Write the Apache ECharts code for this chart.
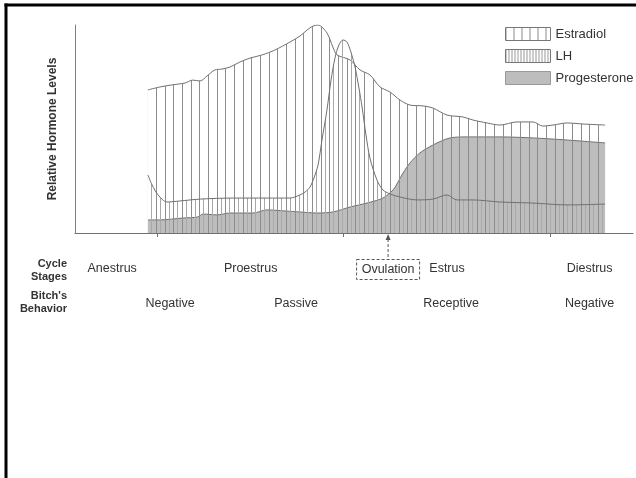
<!DOCTYPE html>
<html><head><meta charset="utf-8">
<script src="https://cdn.jsdelivr.net/npm/echarts@6/dist/echarts.min.js"></script>
<style>html,body{margin:0;padding:0;background:#fff}#c{width:636px;height:478px}</style>
</head><body><div id="c"></div><script>
// x = day of cycle (0 = start of proestrus), y = relative level (0-100)
const estradiol = [[-0.47,68.8],[0.11,70.2],[0.69,71.2],[1.32,72.1],[1.7,73.5],[2.05,73.1],[2.39,75.5],[2.77,78.4],[3.11,78.8],[3.5,79.8],[3.98,82.2],[4.47,84.1],[5.05,85.6],[5.68,88.0],[6.4,91.8],[6.89,94.7],[7.23,97.6],[7.52,99.5],[7.76,100],[8.19,96.2],[8.48,89.4],[8.68,85.6],[9.31,83.2],[9.79,78.4],[10.27,76.0],[10.76,70.2],[11.24,67.8],[11.73,63.9],[12.21,61.5],[12.84,61.1],[13.32,60.1],[14.0,56.7],[14.77,55.8],[15.26,54.3],[15.94,52.9],[16.56,51.9],[17.39,53.4],[18.16,53.4],[18.64,51.4],[19.13,51.9],[19.81,52.9],[20.58,52.4],[21.65,51.9]];
const lh = [[-0.47,27.9],[-0.27,23.1],[0.02,18.3],[0.45,14.9],[1.08,15.4],[2.05,16.3],[3.65,16.8],[5.29,16.8],[6.4,16.8],[6.89,18.3],[7.13,19.7],[7.37,22.1],[7.56,26.4],[7.76,32.7],[7.95,44.7],[8.19,59.1],[8.39,73.6],[8.58,84.1],[8.77,90.4],[8.97,92.8],[9.16,91.8],[9.35,87.0],[9.55,79.8],[9.74,69.7],[9.89,60.6],[10.08,47.1],[10.27,36.1],[10.61,25.5],[10.9,20.7],[11.24,18.8],[11.73,17.3],[12.55,15.9],[13.32,16.3],[14.0,18.3],[14.48,15.9],[15.26,15.9],[16.56,14.9],[18.16,14.4],[19.81,13.5],[21.65,13.9]];
const progesterone = [[-0.47,6.3],[0.11,6.3],[1.23,7.2],[1.95,7.7],[2.19,9.1],[2.87,8.7],[3.5,9.6],[4.61,9.6],[5.29,11.1],[6.16,10.6],[6.89,10.1],[7.71,9.6],[8.48,10.1],[9.31,12.5],[10.13,14.4],[10.9,16.8],[11.39,20.7],[11.63,24.5],[11.87,28.8],[12.21,33.7],[12.69,38.5],[13.32,42.3],[14.15,45.7],[14.97,46.2],[16.56,46.2],[18.16,45.7],[19.81,44.7],[21.65,43.3]];
const stageTicks = [0, 9, 19];
const ovulationDay = 11.15;
const stageNames = ['Anestrus', 'Proestrus', 'Estrus', 'Diestrus'];
const stageDays = [-2.2, 4.5, 14.0, 20.9];
const behaviorNames = ['Negative', 'Passive', 'Receptive', 'Negative'];
const behaviorDays = [0.6, 6.7, 14.2, 20.9];
const seriesNames = ['Estradiol', 'LH', 'Progesterone'];

const FONT = '"Liberation Sans", Arial, sans-serif';
function hatch(w, lines, color, bg) {
  const c = document.createElement('canvas'); c.width = w; c.height = 4;
  const g = c.getContext('2d');
  if (bg) { g.fillStyle = bg; g.fillRect(0, 0, w, 4); }
  g.fillStyle = color;
  lines.forEach(x => g.fillRect(x, 0, 1, 4));
  return { image: c, repeat: 'repeat' };
}
const coarse = hatch(26, [0, 9, 17], '#8c8c8c');
const fine = hatch(26, [4, 13, 21], '#a8a8a8');
const coarseLegend = hatch(8, [0], '#8c8c8c', '#fff');
const fineLegend = hatch(3, [0], '#999', '#fff');
const lineColor = '#707070';
const gray = '#bdbdbd';

const chart = echarts.init(document.getElementById('c'), null, { renderer: 'canvas' });
chart.setOption({
  animation: false,
  backgroundColor: '#fff',
  grid: { left: 75, right: 3, top: 25, bottom: 245 },
  legend: {
    left: 505, top: 27, orient: 'vertical', itemWidth: 45, itemHeight: 13, itemGap: 8,
    padding: 0,
    selectedMode: false,
    textStyle: { fontFamily: FONT, fontSize: 13, color: '#333' },
    data: [
      { name: seriesNames[0], icon: 'rect', itemStyle: { color: coarseLegend, borderColor: '#777', borderWidth: 1 } },
      { name: seriesNames[1], icon: 'rect', itemStyle: { color: fineLegend, borderColor: '#777', borderWidth: 1 } },
      { name: seriesNames[2], icon: 'rect', itemStyle: { color: gray, borderColor: '#999', borderWidth: 1 } }
    ]
  },
  xAxis: {
    type: 'value', min: -4, max: 23,
    axisLine: { show: true, onZero: false, lineStyle: { color: '#707070', width: 1 } },
    axisTick: { show: true, customValues: stageTicks, length: 4, lineStyle: { color: '#707070' } },
    axisLabel: { show: false },
    splitLine: { show: false }
  },
  yAxis: {
    type: 'value', min: 0, max: 100,
    name: 'Relative Hormone Levels', nameLocation: 'middle', nameGap: 16,
    nameTextStyle: { fontFamily: FONT, fontWeight: 'bold', fontSize: 12, color: '#333' },
    axisLine: { show: true, onZero: false, lineStyle: { color: '#808080', width: 1 } },
    axisTick: { show: false }, axisLabel: { show: false }, splitLine: { show: false }
  },
  series: [
    { name: seriesNames[2], type: 'line', data: progesterone, symbol: 'none', smooth: 0.3, z: 2,
      itemStyle: { color: gray }, lineStyle: { color: lineColor, width: 1 },
      areaStyle: { color: gray, opacity: 1 } },
    { name: seriesNames[0], type: 'line', data: estradiol, symbol: 'none', smooth: 0.3, z: 3,
      itemStyle: { color: lineColor }, lineStyle: { color: lineColor, width: 1 },
      areaStyle: { color: coarse, opacity: 1 } },
    { name: seriesNames[1], type: 'line', data: lh, symbol: 'none', smooth: 0.3, z: 4,
      itemStyle: { color: lineColor }, lineStyle: { color: lineColor, width: 1 },
      areaStyle: { color: fine, opacity: 1 } }
  ]
});

const px = d => chart.convertToPixel({ gridIndex: 0 }, [d, 0])[0];
const baseY = chart.convertToPixel({ gridIndex: 0 }, [0, 0])[1];
const txt = (text, x, y, extra) => ({ type: 'text', x, y, z: 10, silent: true,
  style: Object.assign({ text, fill: '#333', fontFamily: FONT, fontSize: 12.5, align: 'center', verticalAlign: 'middle' }, extra || {}) });
const g = [];
stageNames.forEach((n, i) => g.push(txt(n, px(stageDays[i]), 269)));
behaviorNames.forEach((n, i) => g.push(txt(n, px(behaviorDays[i]), 304)));
g.push(txt('Cycle\nStages', 67, 270.5, { align: 'right', fontWeight: 'bold', fontSize: 11, lineHeight: 13 }));
g.push(txt('Bitch\'s\nBehavior', 67, 302.5, { align: 'right', fontWeight: 'bold', fontSize: 11, lineHeight: 13 }));
const xo = px(ovulationDay);
g.push(txt('Ovulation', xo, 269.5));
g.push({ type: 'rect', z: 10, silent: true, shape: { x: xo - 31.5, y: 259.5, width: 63, height: 20 },
  style: { fill: 'none', stroke: '#555', lineWidth: 1, lineDash: [3, 2] } });
g.push({ type: 'line', z: 10, silent: true, shape: { x1: xo, y1: baseY + 6, x2: xo, y2: 259.5 },
  style: { stroke: '#555', lineWidth: 1, lineDash: [3, 2] } });
g.push({ type: 'polygon', z: 10, silent: true, shape: { points: [[xo, baseY + 1], [xo - 2.5, baseY + 7], [xo + 2.5, baseY + 7]] },
  style: { fill: '#555' } });
// scanned page frame
g.push({ type: 'line', z: 20, silent: true, shape: { x1: 6, y1: 3.5, x2: 6, y2: 478 }, style: { stroke: '#000', lineWidth: 3 } });
g.push({ type: 'line', z: 20, silent: true, shape: { x1: 4.5, y1: 5, x2: 636, y2: 5 }, style: { stroke: '#000', lineWidth: 3 } });
chart.setOption({ graphic: g });
</script></body></html>
